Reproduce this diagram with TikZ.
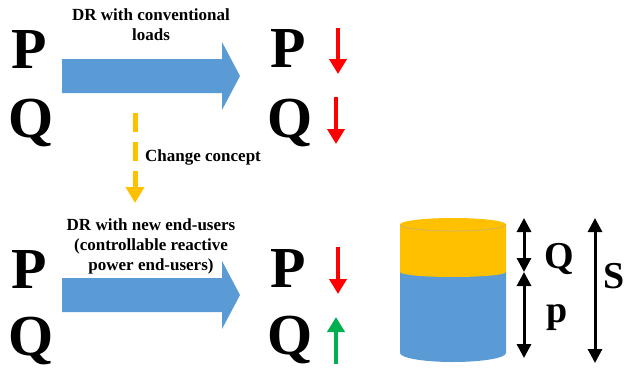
\documentclass[tikz,border=0pt]{standalone}
\usepackage{fontspec}
\setmainfont{Liberation Serif}
\usetikzlibrary{arrows.meta}

\definecolor{drblue}{HTML}{5B9BD5}
\definecolor{conceptyellow}{HTML}{FFC000}
\definecolor{rimyellow}{HTML}{D8B450}
\definecolor{downred}{HTML}{FF0000}
\definecolor{upgreen}{HTML}{00B050}

\tikzset{
	bigletter/.style={font=\fontsize{58}{58}\selectfont\bfseries, anchor=base, inner sep=0pt},
	drtext/.style={font=\fontsize{17}{20}\selectfont\bfseries, align=center, inner sep=0pt},
	partletter/.style={font=\fontsize{38}{38}\selectfont\bfseries, anchor=base, inner sep=0pt},
	trend/.style={line width=4pt, -{Triangle[width=17pt,length=15pt]}},
	measure/.style={line width=3pt, {Triangle[width=14pt,length=14pt]}-{Triangle[width=14pt,length=14pt]}},
}

\begin{document}
\begin{tikzpicture}[x=1pt, y=-1pt]

	\useasboundingbox (0,0) rectangle (626,370);

	% blue DR arrows
	\foreach \yc in {76,295} {
		\fill[drblue] (62,\yc-17) -- (222,\yc-17) -- (222,\yc-34) -- (240,\yc)
			-- (222,\yc+34) -- (222,\yc+17) -- (62,\yc+17) -- cycle;
	}

	% P and Q letters
	\foreach \n/\x/\yp/\yq in {1/29/68/137, 2/288/67/137, 3/29/288/355, 4/288/287/354} {
		\node[bigletter] (P\n) at (\x,\yp) {P};
		\node[bigletter] (Q\n) at (\x+2,\yq) {Q};
	}

	% texts
	\node[drtext] (conv) at (151,25) {DR with conventional\\loads};
	\node[drtext] (newusers) at (151,246) {DR with new end-users\\(controllable reactive\\power end-users)};
	\node[drtext, anchor=base west] (change) at (145,161) {Change concept};

	% change concept arrow
	\coordinate (cs) at (135,113);
	\coordinate (ce) at (135,203);
	\draw[conceptyellow, line width=5pt, dash pattern=on 19pt off 10pt,
		-{Triangle[width=18pt,length=16pt]}] (cs) -- (ce);

	% trend arrows
	\coordinate (t1s) at (338,28);  \coordinate (t1e) at (338,74);
	\coordinate (t2s) at (336,97);  \coordinate (t2e) at (336,144);
	\coordinate (t3s) at (338,247); \coordinate (t3e) at (338,294);
	\coordinate (t4s) at (336,364); \coordinate (t4e) at (336,317);
	\draw[trend, downred] (t1s) -- (t1e);
	\draw[trend, downred] (t2s) -- (t2e);
	\draw[trend, downred] (t3s) -- (t3e);
	\draw[trend, upgreen] (t4s) -- (t4e);

	% cylinder
	\fill[drblue] (400,272) -- (400,353) arc[start angle=180, end angle=0, x radius=53, y radius=9]
		-- (506,272) -- cycle;
	\fill[conceptyellow] (400,224.5) -- (400,272) arc[start angle=180, end angle=0, x radius=53, y radius=5]
		-- (506,224.5) arc[start angle=0, end angle=-180, x radius=53, y radius=6.5] -- cycle;
	\draw[rimyellow, line width=1pt] (400,224.5) arc[start angle=180, end angle=0, x radius=53, y radius=6.5];

	% power parts
	\coordinate (qtop) at (524,218);
	\coordinate (qmid) at (524,272);
	\coordinate (pbot) at (524,358);
	\coordinate (stop) at (595,218);
	\coordinate (sbot) at (595,363);
	\draw[measure] (qtop) -- (qmid);
	\draw[measure] (qmid) -- (pbot);
	\draw[measure] (stop) -- (sbot);

	\node[partletter] (Qpart) at (559,268) {Q};
	\node[partletter] (ppart) at (557,322) {p};
	\node[partletter] (Spart) at (614,288) {S};

\end{tikzpicture}
\end{document}
